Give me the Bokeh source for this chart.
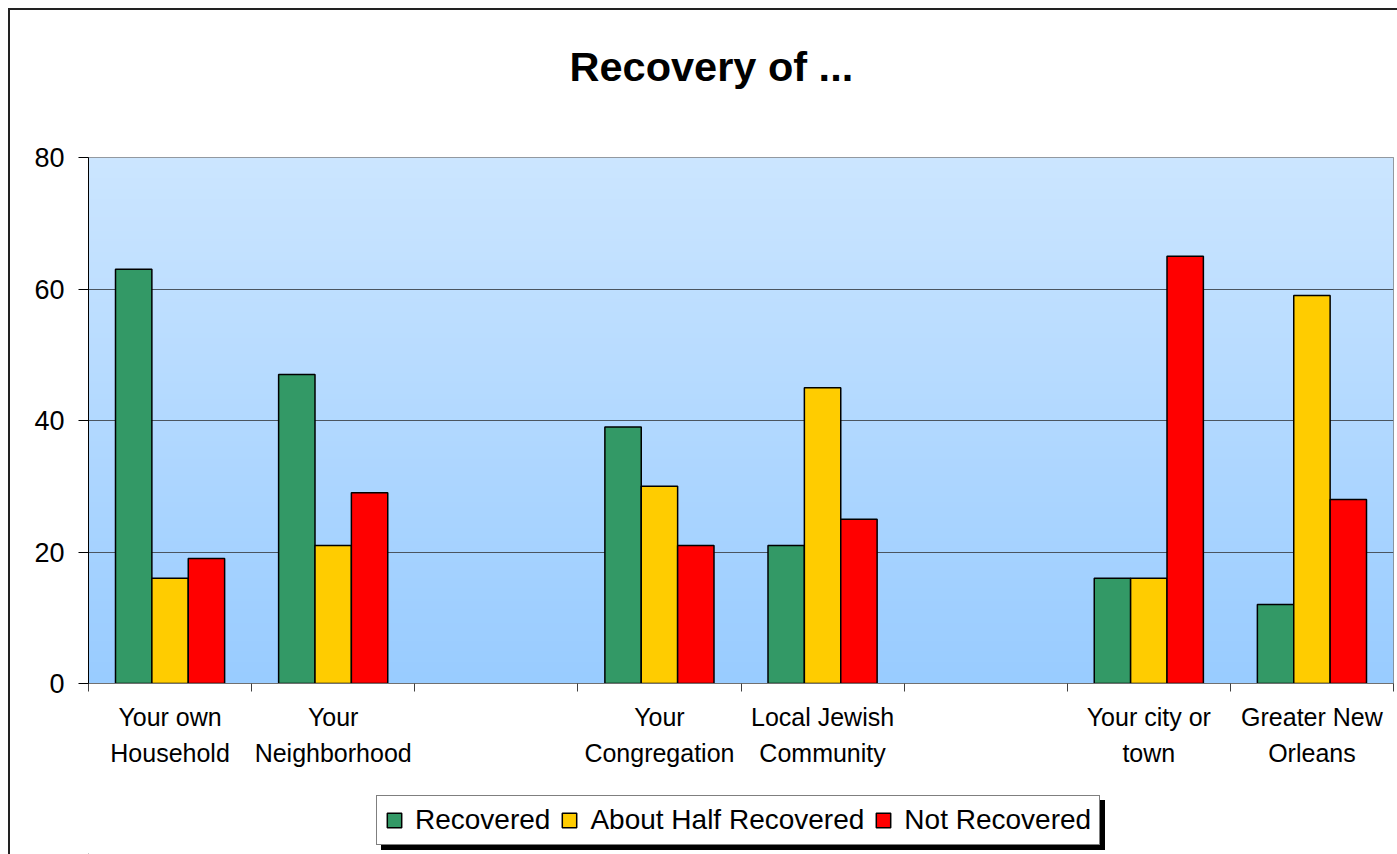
import numpy as np
from bokeh.plotting import figure
from bokeh.layouts import column
from bokeh.models import (ColumnDataSource, LinearAxis, FixedTicker, Legend, LegendItem,
                          Range1d, Title, Grid)
from bokeh.embed import file_html
from bokeh.resources import INLINE

# ---- data ----
categories = ["Your own\nHousehold", "Your\nNeighborhood", "", "Your\nCongregation",
              "Local Jewish\nCommunity", "", "Your city or\ntown", "Greater New\nOrleans"]
recovered = [63, 47, np.nan, 39, 21, np.nan, 16, 12]
about_half = [16, 21, np.nan, 30, 45, np.nan, 16, 59]
not_recovered = [19, 29, np.nan, 21, 25, np.nan, 65, 28]
series_names = ["Recovered", "About Half Recovered", "Not Recovered"]
series_colors = ["#339966", "#FFCC00", "#FF0000"]
y_ticks = [0, 20, 40, 60, 80]

FONT = "Liberation Sans"
n = len(categories)
centers = np.arange(n) + 0.5
bounds = list(range(n + 1))
bar_w = 0.223

p = figure(frame_width=1305, frame_height=526, output_backend="svg", toolbar_location=None,
           x_axis_type=None, y_axis_type=None,
           x_range=Range1d(0, n), y_range=Range1d(0, 80),
           min_border_left=78, min_border_right=4, min_border_top=147, min_border_bottom=107)
p.background_fill_color = "#b3d9ff"
p.border_fill_color = "white"
p.outline_line_color = "#808080"
p.outline_line_width = 1

# gradient background of the plot area
rows = 200
t = np.linspace(0, 1, rows)[:, None]
top = np.array([204, 230, 255]); bot = np.array([153, 204, 255])
rgb = (bot + (top - bot) * t).astype(np.uint32)
img = np.empty((rows, 1), dtype=np.uint32)
img[:, 0] = (255 << 24) | (rgb[:, 2] << 16) | (rgb[:, 1] << 8) | rgb[:, 0]
p.image_rgba(image=[img], x=0, y=0, dw=n, dh=80, level="image")

# spacer between frame and title (invisible top axis)
spacer = LinearAxis(ticker=FixedTicker(ticks=bounds))
spacer.axis_line_color = None
spacer.major_tick_line_color = None
spacer.minor_tick_line_color = None
spacer.major_tick_in = 0
spacer.major_tick_out = 62
spacer.major_label_overrides = {b: "" for b in bounds}
spacer.major_label_standoff = 0
p.add_layout(spacer, "above")

# title
p.title = Title(text="Recovery of ...", align="left", vertical_align="bottom",
                text_font=FONT, text_font_size="41.5px", text_font_style="bold",
                text_color="black", standoff=12, offset=481)

# bars
offsets = [-bar_w, 0.0, bar_w]
renderers = []
for vals, off, col in zip([recovered, about_half, not_recovered], offsets, series_colors):
    src = ColumnDataSource(dict(x=centers + off, top=vals))
    r = p.vbar(x="x", top="top", bottom=0, width=bar_w, source=src,
               fill_color=col, line_color="black", line_width=1.5)
    renderers.append(r)

# y axis
yax = LinearAxis(ticker=FixedTicker(ticks=y_ticks))
yax.axis_line_color = "black"
yax.major_tick_in = 0
yax.major_tick_out = 10
yax.minor_tick_line_color = None
yax.major_label_standoff = 14
yax.major_label_text_font = FONT
yax.major_label_text_font_size = "27px"
yax.major_label_text_color = "black"
p.add_layout(yax, "left")

p.add_layout(Grid(dimension=1, ticker=FixedTicker(ticks=y_ticks),
                  grid_line_color="#4a5560", grid_line_width=1))

# x axis: labels at category centres, tick marks at category boundaries
xax = LinearAxis(ticker=FixedTicker(ticks=list(centers), minor_ticks=bounds))
xax.axis_line_color = "#707070"
xax.major_tick_line_color = None
xax.major_tick_in = 0
xax.major_tick_out = 0
xax.minor_tick_line_color = "#404040"
xax.minor_tick_in = 0
xax.minor_tick_out = 8
xax.major_label_overrides = {float(c): lab for c, lab in zip(centers, categories)}
xax.major_label_text_font = FONT
xax.major_label_text_font_size = "25px"
xax.major_label_text_color = "black"
xax.major_label_text_line_height = 1.32
xax.major_label_standoff = 11
p.add_layout(xax, "below")

# ---- legend strip below the chart ----
p2 = figure(frame_width=1305, frame_height=64, output_backend="svg", toolbar_location=None,
            x_axis_type=None, y_axis_type=None, x_range=Range1d(0, 1), y_range=Range1d(0, 1),
            min_border_left=78, min_border_right=4, min_border_top=0, min_border_bottom=0)
p2.outline_line_color = None
p2.background_fill_color = "white"
p2.border_fill_color = "white"
p2.xgrid.visible = False
p2.ygrid.visible = False


def make_legend(items, loc, bg, text_alpha):
    lg = Legend(items=items, orientation="horizontal", location=loc)
    lg.label_text_font = FONT
    lg.label_text_font_size = "28px"
    lg.label_text_color = "black"
    lg.label_text_alpha = text_alpha
    lg.glyph_width = 18
    lg.glyph_height = 18
    lg.label_standoff = 12
    lg.spacing = 10
    lg.padding = 8
    lg.margin = 0
    lg.border_line_color = "black"
    lg.border_line_width = 1
    lg.background_fill_color = bg
    lg.background_fill_alpha = 1
    return lg

# legend key glyphs (one off-range point each, so the key swatches get drawn)
shadow_rs = [p2.vbar(x=[-10], top=[-5], bottom=-6, width=0.1, fill_color="black", line_color="black")
             for _ in series_names]
key_rs = [p2.vbar(x=[-10], top=[-5], bottom=-6, width=0.1, fill_color=c, line_color="black",
                  line_width=1.5)
          for c in series_colors]
shadow = make_legend([LegendItem(label=nm, renderers=[r]) for nm, r in zip(series_names, shadow_rs)],
                     (293, 4), "black", 0.0)
p2.add_layout(shadow, "center")
legend = make_legend([LegendItem(label=nm, renderers=[r]) for nm, r in zip(series_names, key_rs)],
                     (288, 9), "white", 1.0)
p2.add_layout(legend, "center")

layout = column(p, p2, spacing=0)
layout.styles = {"border-left": "2px solid #222222", "border-top": "2px solid #222222",
                 "margin-left": "8px", "margin-top": "8px"}

open("out.html", "w").write(file_html(layout, INLINE))
